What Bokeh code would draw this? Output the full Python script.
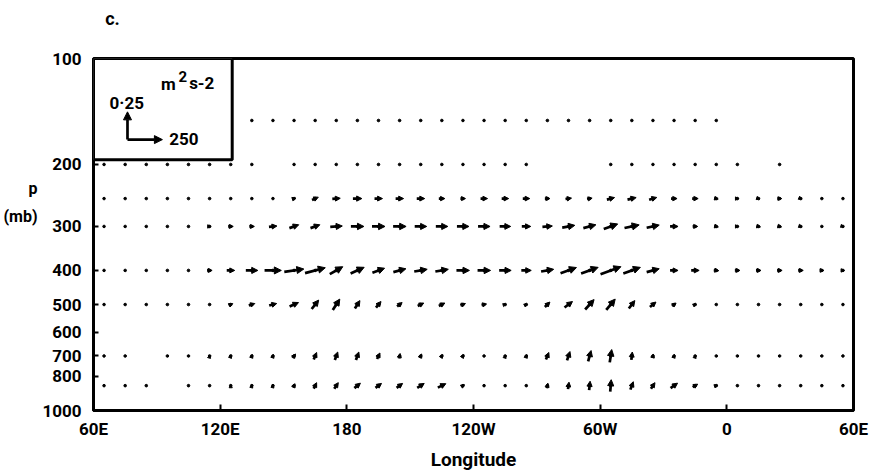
import math
from bokeh.plotting import figure
from bokeh.models import (Range1d, FixedTicker, Arrow, NormalHead, ColumnDataSource,
                          BoxAnnotation, Label, LogAxis, LinearAxis)
from bokeh.embed import file_html
from bokeh.resources import INLINE

nan = float("nan")

# ---------------- data ----------------
longitudes = [65, 75, 85, 95, 105, 115, 125, 135, 145, 155, 165, 175, 185, 195, 205, 215, 225, 235,
              245, 255, 265, 275, 285, 295, 305, 315, 325, 335, 345, 355, 365, 375, 385, 395, 405, 415]
levels = [150, 200, 250, 300, 400, 500, 700, 850]

lon_ticks = [60, 120, 180, 240, 300, 360, 420]
lon_tick_labels = ["60E", "120E", "180", "120W", "60W", "0", "60E"]
p_ticks = [100, 200, 300, 400, 500, 600, 700, 800, 1000]
p_tick_labels = ["100", "200", "300", "400", "500", "600", "700", "800", "1000"]

# horizontal component (m2 s-2) and vertical component, per level, at each longitude
u_150 = [nan, nan, nan, nan, nan, nan, nan, 0, 0, 0, 0, 0, 0, 0, 0, 0, 0, 0,
         0, 0, 0, 0, 0, 0, 0, 0, 0, 0, 0, 0, nan, nan, nan, nan, nan, nan]
w_150 = [nan, nan, nan, nan, nan, nan, nan, 0, 0, 0, 0, 0, 0, 0, 0, 0, 0, 0,
         0, 0, 0, 0, 0, 0, 0, 0, 0, 0, 0, 0, nan, nan, nan, nan, nan, nan]

u_200 = [0, 0, 0, 0, 0, 0, 0, 0, nan, 0, 0, 0, 0, 0, 0, 0, 0, 0,
         0, 0, 0, nan, nan, nan, 0, 0, 0, 0, 0, 0, 0, nan, 0, nan, nan, nan]
w_200 = [0, 0, 0, 0, 0, 0, 0, 0, nan, 0, 0, 0, 0, 0, 0, 0, 0, 0,
         0, 0, 0, nan, nan, nan, 0, 0, 0, 0, 0, 0, 0, nan, 0, nan, nan, nan]

u_250 = [0, 0, 0, 0, 0, 0, 0, 0, 0, 25, 45, 57, 64, 57, 57, 57, 43, 36,
         50, 50, 50, 36, 43, 36, 55, 62, 55, 43, 43, 28, 20, 20, 30, 18, 12, 8]
w_250 = [0, 0, 0, 0, 0, 0, 0, 0, 0, 0.01, 0.025, 0.005, 0, 0, 0, 0, 0, 0,
         0, 0, 0, 0, 0.008, 0.008, 0.018, 0.018, 0.02, 0, 0, -0.008, 0, -0.008, 0, -0.01, 0, 0]

u_300 = [0, 0, 0, 0, 0, 21, 36, 36, 57, 67, 67, 86, 93, 93, 93, 86, 86, 86,
         86, 79, 64, 71, 90, 90, 100, 105, 90, 57, 36, 30, 20, 28, 28, 20, 14, 14]
w_300 = [0, 0, 0, 0, 0, 0, 0, 0, 0.008, 0.03, 0.03, 0.008, 0, 0, 0, 0, 0, 0,
         0, 0, 0, 0.008, 0.02, 0.03, 0.045, 0.028, 0.024, 0, 0, -0.008, 0, -0.008, -0.008, -0.008, 0, -0.005]

u_400 = [5, 0, 0, 0, 0, 36, 57, 86, 120, 140, 145, 93, 97, 87, 90, 93, 93, 93,
         93, 86, 71, 90, 114, 122, 146, 122, 90, 57, 57, 36, 36, 36, 36, 36, 30, 22]
w_400 = [0, 0, 0, 0, 0, 0, 0, 0, 0, 0.025, 0.048, 0.067, 0.056, 0.04, 0.03, 0.02, 0.02, 0,
         0, 0, 0, 0.02, 0.052, 0.055, 0.067, 0.055, 0.03, 0, 0, -0.005, 0, 0, 0, 0, 0, 0]

u_500 = [0, 0, 0, 0, 0, 11, 29, 43, 54, 64, 50, 50, 36, 36, 36, 43, 43, 36,
         36, 14, 14, 36, 57, 64, 64, 43, 43, 29, 14, 14, 0, 0, 0, 0, 0, 0]
w_500 = [0, 0, 0, 0, 0, 0.009, 0.018, 0.018, 0.018, 0.036, 0.08, 0.098, 0.071, 0.054, 0.036, 0.027, 0.027, 0.018,
         0.009, 0.005, 0.009, 0.045, 0.054, 0.089, 0.098, 0.071, 0.045, 0.027, 0.009, 0, 0, 0, 0, 0, 0, 0]

u_700 = [0, 0, nan, 0, 7, 4, 7, 7, 7, 21, 21, 21, 21, 21, 7, 14, 14, 14,
         7, 4, 7, 21, 21, 21, 14, 7, 7, 7, 4, 0, 0, 0, 0, 0, 0, 0]
w_700 = [0, 0, nan, 0, 0.009, 0.018, 0.022, 0.027, 0.027, 0.036, 0.063, 0.071, 0.071, 0.054, 0.045, 0.036, 0.027, 0.027,
         0, 0.018, 0.027, 0.063, 0.08, 0.098, 0.116, 0.071, 0.036, 0.027, 0.018, 0, 0, 0, 0, 0, 0, 0]

u_850 = [0, 0, 0, nan, 0, 0, 0, 4, 4, 14, 21, 29, 43, 43, 43, 50, 57, 21,
         4, 0, 0, 7, 7, 7, 7, 21, 29, 50, 36, 21, 0, 0, 0, 0, 0, 0]
w_850 = [0, 0, 0, nan, 0, 0, 0.018, 0.018, 0.018, 0.036, 0.054, 0.054, 0.045, 0.04, 0.04, 0.04, 0.036, 0.018,
         0.009, 0.013, 0.009, 0.045, 0.063, 0.08, 0.107, 0.071, 0.054, 0.045, 0.027, 0.009, 0, 0, 0, 0, 0, 0]

u_ref, w_ref = 250, 0.25        # reference vector
u_ref_label, w_ref_label = "250", "0\u00b725"

# ---------------- geometry / scale ----------------
FRAME_W, FRAME_H = 762, 355
PX_PER_DEG = FRAME_W / 360.0
PX_PER_DECADE = FRAME_H / 1.0
U_REF_PX, W_REF_PX = 35.0, 28.0

FONT = "Roboto"

p = figure(width=874, height=473, x_range=Range1d(60, 420), y_range=Range1d(1000, 100),
           y_axis_type="log", output_backend="svg", toolbar_location=None, title=None,
           min_border_left=91, min_border_right=21, min_border_top=58, min_border_bottom=60)
p.background_fill_color = "white"
p.border_fill_color = "white"
p.outline_line_color = "black"
p.outline_line_width = 3
p.xgrid.visible = False
p.ygrid.visible = False

for ax in (p.xaxis, p.yaxis):
    ax.axis_line_width = 3
    ax.major_tick_line_width = 2
    ax.major_tick_out = 0
    ax.minor_tick_line_color = None
    ax.major_label_text_font = FONT
    ax.major_label_text_font_size = "17px"
    ax.major_label_text_font_style = "bold"
    ax.major_label_text_color = "black"

p.xaxis.ticker = FixedTicker(ticks=lon_ticks)
p.xaxis.major_label_overrides = dict(zip(lon_ticks, lon_tick_labels))
p.xaxis.major_tick_in = 6
p.xaxis.major_label_standoff = 8
p.xaxis.axis_label = "Longitude"
p.xaxis.axis_label_text_font = FONT
p.xaxis.axis_label_text_font_size = "19px"
p.xaxis.axis_label_text_font_style = "bold"
p.xaxis.axis_label_text_color = "black"
p.xaxis.axis_label_standoff = 6

p.yaxis.ticker = FixedTicker(ticks=p_ticks)
p.yaxis.major_label_overrides = dict(zip(p_ticks, p_tick_labels))
p.yaxis.major_tick_in = 5
p.yaxis.major_label_standoff = 12

# y-axis title "p (mb)" as an outer, line-less axis whose two labels sit at chosen heights
title_axis = LogAxis(ticker=FixedTicker(ticks=[234, 282]),
                     major_label_overrides={234: "p", 282: "(mb)"},
                     axis_line_color=None, major_tick_line_color=None, minor_tick_line_color=None,
                     major_tick_in=0, major_tick_out=0, major_label_standoff=2,
                     major_label_text_font=FONT, major_label_text_font_size="16px",
                     major_label_text_font_style="bold", major_label_text_color="black")
p.add_layout(title_axis, "left")

# panel letter "c." above the frame, in the same way
letter_axis = LinearAxis(ticker=FixedTicker(ticks=[69]), major_label_overrides={69: "c."},
                         axis_line_color=None, major_tick_line_color=None, minor_tick_line_color=None,
                         major_tick_in=0, major_tick_out=0, major_label_standoff=30,
                         major_label_text_font=FONT, major_label_text_font_size="18px",
                         major_label_text_font_style="bold", major_label_text_color="black")
p.add_layout(letter_axis, "above")

# ---------------- vectors ----------------
all_u = [u_150, u_200, u_250, u_300, u_400, u_500, u_700, u_850]
all_w = [w_150, w_200, w_250, w_300, w_400, w_500, w_700, w_850]

dot_x, dot_y = [], []
ax0, ay0, ax1, ay1, hs = [], [], [], [], []
for lev, us, ws in zip(levels, all_u, all_w):
    for lon, u, w in zip(longitudes, us, ws):
        if math.isnan(u):
            continue
        dot_x.append(lon)
        dot_y.append(lev)
        lx = u * U_REF_PX / u_ref
        ly = w * W_REF_PX / w_ref
        L = math.hypot(lx, ly)
        if L < 2.0:
            continue
        ax0.append(lon - 0.5 * lx / PX_PER_DEG)
        ax1.append(lon + 0.5 * lx / PX_PER_DEG)
        ay0.append(lev * 10 ** (0.5 * ly / PX_PER_DECADE))
        ay1.append(lev * 10 ** (-0.5 * ly / PX_PER_DECADE))
        hs.append(min(7.0, 2.5 + 0.3 * L))

p.scatter(dot_x, dot_y, size=2.6, color="black", marker="circle")

vec_src = ColumnDataSource(dict(x0=ax0, y0=ay0, x1=ax1, y1=ay1, hs=hs))
p.add_layout(Arrow(x_start="x0", y_start="y0", x_end="x1", y_end="y1", source=vec_src,
                   line_width=2.7, line_color="black",
                   end=NormalHead(size="hs", fill_color="black", line_color="black", line_width=1)))

# ---------------- key box ----------------
p.add_layout(BoxAnnotation(left=60, right=125.7, top=100, bottom=194, fill_color="white",
                           fill_alpha=1.0, line_color="black", line_width=3, line_alpha=1.0))

key_lon, key_p = 76.1, 170.0
key_src = ColumnDataSource(dict(
    x0=[key_lon, key_lon],
    y0=[key_p, key_p],
    x1=[key_lon + U_REF_PX / PX_PER_DEG * (u_ref / u_ref), key_lon],
    y1=[key_p, key_p * 10 ** (-W_REF_PX * (w_ref / w_ref) / PX_PER_DECADE)],
))
p.add_layout(Arrow(x_start="x0", y_start="y0", x_end="x1", y_end="y1", source=key_src,
                   line_width=2.7, line_color="black",
                   end=NormalHead(size=8, fill_color="black", line_color="black", line_width=1)))


def lab(x, y, text, size="17px", align="left"):
    p.add_layout(Label(x=x, y=y, x_units="data", y_units="data", text=text, text_font=FONT,
                       text_font_size=size, text_font_style="bold", text_color="black",
                       text_baseline="middle", text_align=align))


lab(67.6, 133.5, w_ref_label)
lab(95.9, 169.1, u_ref_label)
lab(92.0, 118.4, "m")
lab(100.3, 112.6, "2", size="15px")
lab(105.3, 117.0, "s-2")

open("out.html", "w").write(file_html(p, INLINE))
